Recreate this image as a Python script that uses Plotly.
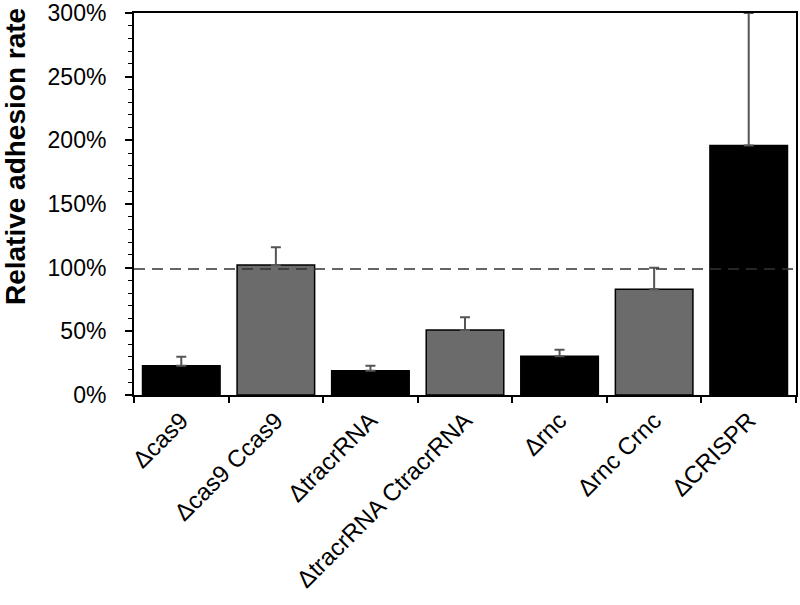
import plotly.graph_objects as go

strains = ['Δcas9', 'Δcas9 Ccas9', 'ΔtracrRNA', 'ΔtracrRNA CtracrRNA',
           'Δrnc', 'Δrnc Crnc', 'ΔCRISPR']
adhesion = [23, 102, 19, 51, 30.5, 83, 196]
adhesion_err = [7, 14, 4, 10, 5, 17, 104]
bar_colors = ['#000000', '#6b6b6b', '#000000', '#6b6b6b',
              '#000000', '#6b6b6b', '#000000']
reference_level = 99
y_ticks = [0, 50, 100, 150, 200, 250, 300]
y_ticktext = [f'{v}%' for v in y_ticks]

FONT = 'Liberation Sans, Arial, Helvetica, sans-serif'

fig = go.Figure()
fig.add_trace(go.Bar(
    x=strains, y=adhesion,
    marker=dict(color=bar_colors, line=dict(color='#000000', width=1.5)),
    error_y=dict(type='data', symmetric=False, array=adhesion_err,
                 arrayminus=[0] * len(adhesion_err),
                 color='#555555', thickness=2, width=5),
    showlegend=False,
))

fig.add_shape(type='line', xref='paper', x0=0, x1=1, yref='y',
              y0=reference_level, y1=reference_level,
              line=dict(color='#333333', width=1.5, dash='11px,7px'))

# y-axis title placed by hand (sits higher than the axis centre in the original)
fig.add_annotation(text='<b>Relative adhesion rate</b>', xref='paper', yref='paper',
                   x=-0.18, y=0.625, xanchor='center', yanchor='middle',
                   textangle=-90, showarrow=False, font=dict(size=28))

fig.update_layout(
    width=800, height=605,
    margin=dict(l=134, r=4, t=13, b=210),
    plot_bgcolor='white', paper_bgcolor='white',
    bargap=0.18,
    font=dict(family=FONT, size=23, color='#000000'),
)
fig.update_xaxes(
    type='category', tickson='boundaries', ticks='outside', ticklen=6,
    tickwidth=2, tickcolor='#000000', tickangle=-45,
    showline=True, linecolor='#000000', linewidth=2, mirror=True,
    showgrid=False, tickfont=dict(size=24), automargin=False,
)
fig.update_yaxes(
    range=[0, 300], tickvals=y_ticks, ticktext=y_ticktext,
    ticks='outside', ticklen=7, tickwidth=1.5, tickcolor='#000000',
    ticklabelstandoff=14,
    minor=dict(dtick=10, ticks='outside', ticklen=4, tickcolor='#000000',
               tickwidth=1, showgrid=False),
    showline=True, linecolor='#000000', linewidth=2, mirror=True,
    showgrid=False, zeroline=False, tickfont=dict(size=23), automargin=False,
)

# drop the browser's default 8px body margin so the figure fills the window
fig.write_html('out.html', config={'displayModeBar': False},
               post_script="document.body.style.margin='0';")
